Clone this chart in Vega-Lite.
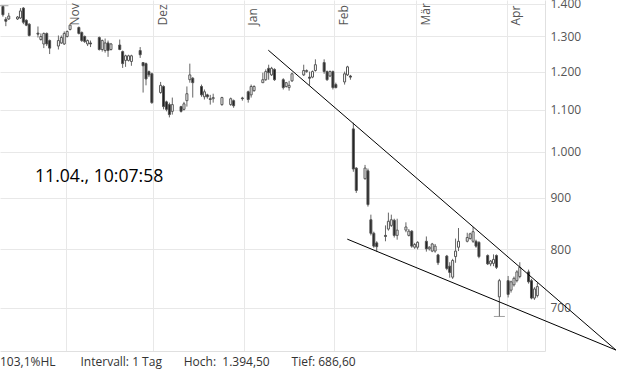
{
  "$schema": "https://vega.github.io/schema/vega-lite/v6.json",
  "width": 545,
  "height": 351,
  "autosize": {"type": "none"},
  "padding": {"left": 0, "top": 0, "right": 77, "bottom": 23},
  "background": "white",
  "config": {"view": {"stroke": null}, "font": "Open Sans"},
  "title": {
    "text": "103,1%HL\u00a0\u00a0\u00a0\u00a0\u00a0\u00a0\u00a0\u00a0Intervall: 1 Tag\u00a0\u00a0\u00a0\u00a0\u00a0\u00a0\u00a0Hoch:\u00a0\u00a01.394,50\u00a0\u00a0\u00a0\u00a0\u00a0\u00a0\u00a0Tief:\u00a0686,60",
    "orient": "bottom", "anchor": "start", "frame": "group",
    "font": "Open Sans", "fontSize": 12, "fontWeight": "normal", "color": "#333", "offset": 6
  },
  "datasets": {
    "candles": [
      {"d":"2018-10-10","o":1392,"h":1394.5,"l":1360,"c":1366},
      {"d":"2018-10-11","o":1352,"h":1359,"l":1331,"c":1346},
      {"d":"2018-10-12","o":1353,"h":1372,"l":1350,"c":1362},
      {"d":"2018-10-15","o":1353,"h":1362,"l":1350,"c":1359},
      {"d":"2018-10-16","o":1356,"h":1387,"l":1353,"c":1378},
      {"d":"2018-10-17","o":1387,"h":1390,"l":1337,"c":1343},
      {"d":"2018-10-18","o":1349,"h":1352,"l":1331,"c":1334},
      {"d":"2018-10-19","o":1337,"h":1340,"l":1300,"c":1303},
      {"d":"2018-10-22","o":1310,"h":1330,"l":1297,"c":1307},
      {"d":"2018-10-23","o":1291,"h":1309,"l":1288,"c":1300},
      {"d":"2018-10-24","o":1278,"h":1312,"l":1266,"c":1309},
      {"d":"2018-10-25","o":1309,"h":1312,"l":1272,"c":1278},
      {"d":"2018-10-26","o":1288,"h":1291,"l":1249,"c":1266},
      {"d":"2018-10-29","o":1272,"h":1303,"l":1262,"c":1288},
      {"d":"2018-10-30","o":1281,"h":1303,"l":1278,"c":1297},
      {"d":"2018-10-31","o":1278,"h":1315,"l":1275,"c":1309},
      {"d":"2018-11-01","o":1300,"h":1318,"l":1297,"c":1315},
      {"d":"2018-11-02","o":1321,"h":1337,"l":1318,"c":1334},
      {"d":"2018-11-05","o":1327,"h":1330,"l":1306,"c":1309},
      {"d":"2018-11-06","o":1312,"h":1315,"l":1284,"c":1288},
      {"d":"2018-11-07","o":1300,"h":1303,"l":1281,"c":1285},
      {"d":"2018-11-08","o":1278,"h":1291,"l":1272,"c":1288},
      {"d":"2018-11-09","o":1281,"h":1288,"l":1269,"c":1278},
      {"d":"2018-11-12","o":1297,"h":1300,"l":1259,"c":1262},
      {"d":"2018-11-13","o":1262,"h":1291,"l":1256,"c":1288},
      {"d":"2018-11-14","o":1259,"h":1294,"l":1253,"c":1281},
      {"d":"2018-11-15","o":1281,"h":1288,"l":1241,"c":1259},
      {"d":"2018-11-16","o":1262,"h":1281,"l":1259,"c":1278},
      {"d":"2018-11-19","o":1275,"h":1291,"l":1260,"c":1262},
      {"d":"2018-11-20","o":1256,"h":1259,"l":1210,"c":1222},
      {"d":"2018-11-21","o":1231,"h":1247,"l":1213,"c":1244},
      {"d":"2018-11-22","o":1231,"h":1247,"l":1228,"c":1244},
      {"d":"2018-11-23","o":1228,"h":1247,"l":1216,"c":1244},
      {"d":"2018-11-26","o":1259,"h":1269,"l":1238,"c":1247},
      {"d":"2018-11-27","o":1225,"h":1225,"l":1144,"c":1216},
      {"d":"2018-11-28","o":1222,"h":1225,"l":1163,"c":1180},
      {"d":"2018-11-29","o":1200,"h":1203,"l":1185,"c":1191},
      {"d":"2018-11-30","o":1194,"h":1197,"l":1115,"c":1118},
      {"d":"2018-12-03","o":1144,"h":1172,"l":1141,"c":1163},
      {"d":"2018-12-04","o":1160,"h":1163,"l":1101,"c":1108},
      {"d":"2018-12-05","o":1120,"h":1123,"l":1096,"c":1101},
      {"d":"2018-12-06","o":1113,"h":1118,"l":1081,"c":1088},
      {"d":"2018-12-07","o":1096,"h":1131,"l":1088,"c":1113},
      {"d":"2018-12-10","o":1108,"h":1110,"l":1093,"c":1096},
      {"d":"2018-12-11","o":1101,"h":1120,"l":1098,"c":1115},
      {"d":"2018-12-12","o":1123,"h":1160,"l":1108,"c":1141},
      {"d":"2018-12-13","o":1178,"h":1222,"l":1170,"c":1191},
      {"d":"2018-12-14","o":1182,"h":1185,"l":1131,"c":1170},
      {"d":"2018-12-17","o":1160,"h":1165,"l":1133,"c":1138},
      {"d":"2018-12-18","o":1133,"h":1152,"l":1126,"c":1146},
      {"d":"2018-12-19","o":1138,"h":1141,"l":1128,"c":1133},
      {"d":"2018-12-20","o":1128,"h":1138,"l":1113,"c":1126},
      {"d":"2018-12-21","o":1128,"h":1141,"l":1118,"c":1131},
      {"d":"2018-12-24","o":1113,"h":1133,"l":1110,"c":1131},
      {"d":"2018-12-27","o":1113,"h":1131,"l":1110,"c":1128},
      {"d":"2018-12-28","o":1123,"h":1126,"l":1105,"c":1110},
      {"d":"2018-12-31","o":1130,"h":1133,"l":1123,"c":1128},
      {"d":"2019-01-02","o":1146,"h":1149,"l":1118,"c":1126},
      {"d":"2019-01-03","o":1138,"h":1165,"l":1131,"c":1160},
      {"d":"2019-01-04","o":1149,"h":1163,"l":1146,"c":1160},
      {"d":"2019-01-07","o":1170,"h":1197,"l":1170,"c":1178},
      {"d":"2019-01-08","o":1178,"h":1206,"l":1175,"c":1200},
      {"d":"2019-01-09","o":1209,"h":1219,"l":1178,"c":1197},
      {"d":"2019-01-10","o":1191,"h":1213,"l":1188,"c":1209},
      {"d":"2019-01-11","o":1206,"h":1209,"l":1175,"c":1178},
      {"d":"2019-01-14","o":1178,"h":1182,"l":1152,"c":1157},
      {"d":"2019-01-15","o":1160,"h":1172,"l":1157,"c":1170},
      {"d":"2019-01-16","o":1157,"h":1175,"l":1149,"c":1163},
      {"d":"2019-01-17","o":1175,"h":1197,"l":1172,"c":1194},
      {"d":"2019-01-21","o":1191,"h":1219,"l":1188,"c":1203},
      {"d":"2019-01-22","o":1200,"h":1206,"l":1197,"c":1203},
      {"d":"2019-01-23","o":1185,"h":1200,"l":1163,"c":1182},
      {"d":"2019-01-24","o":1185,"h":1203,"l":1182,"c":1200},
      {"d":"2019-01-25","o":1203,"h":1234,"l":1200,"c":1219},
      {"d":"2019-01-28","o":1225,"h":1234,"l":1194,"c":1200},
      {"d":"2019-01-29","o":1200,"h":1203,"l":1175,"c":1178},
      {"d":"2019-01-30","o":1188,"h":1203,"l":1185,"c":1200},
      {"d":"2019-01-31","o":1200,"h":1203,"l":1152,"c":1157},
      {"d":"2019-02-01","o":1165,"h":1170,"l":1155,"c":1157},
      {"d":"2019-02-04","o":1172,"h":1200,"l":1165,"c":1194},
      {"d":"2019-02-05","o":1191,"h":1216,"l":1188,"c":1213},
      {"d":"2019-02-06","o":1188,"h":1191,"l":1178,"c":1185},
      {"d":"2019-02-07","o":1053,"h":1068,"l":955,"c":961},
      {"d":"2019-02-08","o":963,"h":965,"l":910,"c":915},
      {"d":"2019-02-11","o":940,"h":970,"l":938,"c":963},
      {"d":"2019-02-12","o":957,"h":962,"l":882,"c":886},
      {"d":"2019-02-13","o":856,"h":866,"l":826,"c":830},
      {"d":"2019-02-14","o":830,"h":833,"l":803,"c":806},
      {"d":"2019-02-15","o":812,"h":815,"l":796,"c":805},
      {"d":"2019-02-18","o":826,"h":845,"l":815,"c":824},
      {"d":"2019-02-19","o":838,"h":870,"l":835,"c":853},
      {"d":"2019-02-20","o":845,"h":866,"l":842,"c":856},
      {"d":"2019-02-21","o":855,"h":858,"l":822,"c":826},
      {"d":"2019-02-22","o":826,"h":858,"l":818,"c":836},
      {"d":"2019-02-25","o":836,"h":851,"l":832,"c":842},
      {"d":"2019-02-26","o":826,"h":838,"l":824,"c":834},
      {"d":"2019-02-27","o":834,"h":836,"l":803,"c":806},
      {"d":"2019-02-28","o":804,"h":812,"l":801,"c":809},
      {"d":"2019-03-01","o":804,"h":815,"l":800,"c":813},
      {"d":"2019-03-04","o":815,"h":824,"l":796,"c":801},
      {"d":"2019-03-05","o":801,"h":806,"l":798,"c":804},
      {"d":"2019-03-06","o":797,"h":812,"l":795,"c":810},
      {"d":"2019-03-07","o":797,"h":810,"l":794,"c":806},
      {"d":"2019-03-08","o":790,"h":792,"l":772,"c":776},
      {"d":"2019-03-11","o":788,"h":790,"l":763,"c":766},
      {"d":"2019-03-12","o":770,"h":777,"l":750,"c":759},
      {"d":"2019-03-13","o":751,"h":783,"l":748,"c":780},
      {"d":"2019-03-14","o":787,"h":820,"l":776,"c":797},
      {"d":"2019-03-15","o":804,"h":840,"l":797,"c":815},
      {"d":"2019-03-18","o":815,"h":831,"l":813,"c":822},
      {"d":"2019-03-19","o":820,"h":831,"l":818,"c":829},
      {"d":"2019-03-20","o":815,"h":842,"l":812,"c":833},
      {"d":"2019-03-21","o":815,"h":818,"l":803,"c":806},
      {"d":"2019-03-22","o":813,"h":815,"l":784,"c":787},
      {"d":"2019-03-25","o":789,"h":791,"l":772,"c":774},
      {"d":"2019-03-26","o":774,"h":781,"l":770,"c":779},
      {"d":"2019-03-27","o":775,"h":791,"l":770,"c":782},
      {"d":"2019-03-28","o":789,"h":791,"l":765,"c":768},
      {"d":"2019-03-29","o":718,"h":748,"l":686.6,"c":745},
      {"d":"2019-04-01","o":745,"h":753,"l":717,"c":722},
      {"d":"2019-04-02","o":729,"h":745,"l":725,"c":743},
      {"d":"2019-04-03","o":738,"h":752,"l":735,"c":749},
      {"d":"2019-04-04","o":745,"h":763,"l":742,"c":760},
      {"d":"2019-04-05","o":752,"h":777,"l":749,"c":768},
      {"d":"2019-04-08","o":760,"h":764,"l":740,"c":743},
      {"d":"2019-04-09","o":745,"h":748,"l":714,"c":716},
      {"d":"2019-04-10","o":716,"h":734,"l":713,"c":731},
      {"d":"2019-04-11","o":720,"h":741,"l":717,"c":735}
    ],
    "trend": [
      {"d1":"2019-01-09 09:00","v1":1260,"d2":"2019-05-08 10:00","v2":636},
      {"d1":"2019-02-05 10:00","v1":819,"d2":"2019-05-08 10:00","v2":636}
    ],
    "notes": [
      {"d":"2018-10-21 12:00","v":944,"t":"11.04., 10:07:58"}
    ]
  },
  "layer": [
    {
      "data": {"name": "candles"},
      "mark": {"type": "rule", "color": "#666", "strokeWidth": 1},
      "encoding": {
        "x": {
          "field": "d", "type": "temporal", "timeUnit": "yearmonthdate", "bandPosition": 0.5,
          "scale": {"padding": 0, "domain": [{"year": 2018, "month": 10, "date": 9, "hours": 12}, {"year": 2019, "month": 4, "date": 14, "hours": 3}]},
          "axis": {
            "orient": "bottom", "title": null,
            "values": [{"year":2018,"month":11,"date":1},{"year":2018,"month":12,"date":1},{"year":2019,"month":1,"date":1},{"year":2019,"month":2,"date":1},{"year":2019,"month":3,"date":1},{"year":2019,"month":4,"date":1}],
            "labelExpr": "['Jan','Feb','Mär','Apr','Mai','Jun','Jul','Aug','Sep','Okt','Nov','Dez'][month(datum.value)]",
            "grid": true, "gridColor": "#e8e8e8", "gridWidth": 1,
            "domain": true, "domainColor": "#e0e0e0",
            "ticks": false, "tickSize": 0,
            "labelAngle": 270, "labelAlign": "left", "labelBaseline": "top",
            "labelPadding": -326, "labelOffset": 4, "labelFlush": false, "labelOverlap": false,
            "labelFont": "Open Sans", "labelFontSize": 12, "labelColor": "#555"
          }
        },
        "y": {
          "field": "l", "type": "quantitative",
          "scale": {"type": "log", "domain": [634.6, 1412.8], "nice": false},
          "axis": {
            "orient": "right", "title": null,
            "values": [700, 800, 900, 1000, 1100, 1200, 1300, 1400],
            "labelExpr": "replace(format(datum.value, ','), ',', '.')",
            "grid": true, "gridColor": "#e8e8e8",
            "domain": true, "domainColor": "#e0e0e0",
            "ticks": false, "labelPadding": 5,
            "labelFont": "Open Sans", "labelFontSize": 12, "labelColor": "#555"
          }
        },
        "y2": {"field": "h"}
      }
    },
    {
      "data": {"name": "candles"},
      "mark": {"type": "bar", "size": 2, "strokeWidth": 1, "stroke": "#555"},
      "encoding": {
        "x": {"field": "d", "type": "temporal", "timeUnit": "yearmonthdate", "bandPosition": 0.5, "axis": {"title": null}},
        "y": {"field": "o", "type": "quantitative", "axis": {"title": null}},
        "y2": {"field": "c"},
        "fill": {"condition": {"test": "datum.o > datum.c", "value": "#1e1e1e"}, "value": "#ffffff"}
      }
    },
    {
      "data": {"name": "candles"},
      "transform": [
        {"joinaggregate": [{"op": "max", "field": "h", "as": "hmax"}]},
        {"filter": "datum.h == datum.hmax"}
      ],
      "mark": {"type": "tick", "orient": "horizontal", "size": 11, "thickness": 1, "color": "#777"},
      "encoding": {
        "x": {"field": "d", "type": "temporal", "timeUnit": "yearmonthdate", "bandPosition": 0.5, "axis": {"title": null}},
        "y": {"field": "h", "type": "quantitative", "axis": {"title": null}}
      }
    },
    {
      "data": {"name": "candles"},
      "transform": [
        {"joinaggregate": [{"op": "min", "field": "l", "as": "lmin"}]},
        {"filter": "datum.l == datum.lmin"}
      ],
      "mark": {"type": "tick", "orient": "horizontal", "size": 11, "thickness": 1, "color": "#777"},
      "encoding": {
        "x": {"field": "d", "type": "temporal", "timeUnit": "yearmonthdate", "bandPosition": 0.5, "axis": {"title": null}},
        "y": {"field": "l", "type": "quantitative", "axis": {"title": null}}
      }
    },
    {
      "data": {"name": "trend", "format": {"parse": {"d1": "date:'%Y-%m-%d %H:%M'", "d2": "date:'%Y-%m-%d %H:%M'"}}},
      "mark": {"type": "rule", "color": "#000", "strokeWidth": 1, "clip": false},
      "encoding": {
        "x": {"field": "d1", "type": "temporal", "axis": {"title": null}},
        "y": {"field": "v1", "type": "quantitative", "axis": {"title": null}},
        "x2": {"field": "d2"},
        "y2": {"field": "v2"}
      }
    },
    {
      "data": {"name": "notes", "format": {"parse": {"d": "date:'%Y-%m-%d %H:%M'"}}},
      "mark": {"type": "text", "align": "left", "baseline": "middle", "font": "Open Sans", "fontSize": 17.6, "color": "#000"},
      "encoding": {
        "x": {"field": "d", "type": "temporal", "axis": {"title": null}},
        "y": {"field": "v", "type": "quantitative", "axis": {"title": null}},
        "text": {"field": "t"}
      }
    }
  ]
}
